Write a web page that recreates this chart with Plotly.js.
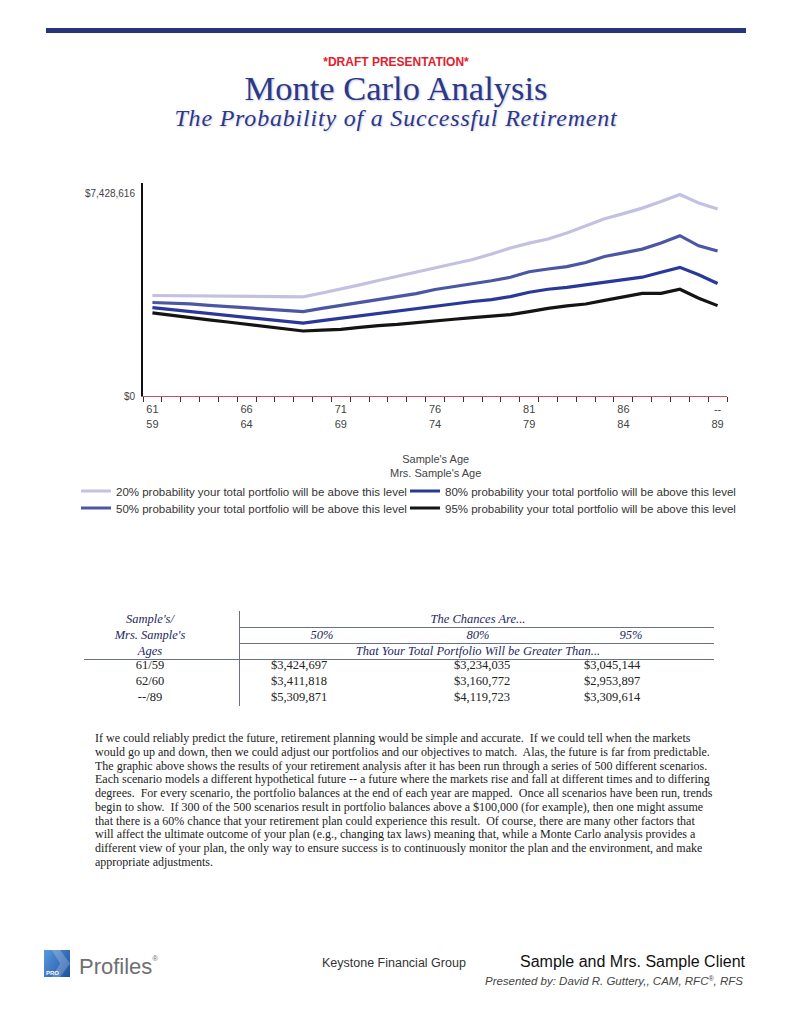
<!DOCTYPE html>
<html>
<head>
<meta charset="utf-8">
<script src="https://cdn.plot.ly/plotly-3.0.1.min.js"></script>
<style>
html,body{margin:0;padding:0;background:#fff;}
body{width:792px;height:1024px;position:relative;overflow:hidden;font-family:"Liberation Sans",Arial,sans-serif;}
.a{position:absolute;white-space:nowrap;}
.c{transform:translate(-50%,-50%);}
.lv{transform:translateY(-50%);}
.rv{transform:translate(-100%,-50%);}
.serif{font-family:"Liberation Serif","Times New Roman",serif;}
.hdr{font-family:"Liberation Serif","Times New Roman",serif;font-style:italic;font-size:12.5px;color:#23285e;}
.val{font-family:"Liberation Serif","Times New Roman",serif;font-size:12.5px;color:#222;}
.hl{position:absolute;height:1px;background:#6a6f8c;}
#chart{position:absolute;left:0;top:170px;width:792px;height:360px;}
#para{position:absolute;left:95px;top:732px;font-family:"Liberation Serif","Times New Roman",serif;font-size:12px;line-height:13.75px;color:#222;white-space:nowrap;}
</style>
</head>
<body>
<div class="a" style="left:46px;top:28px;width:700px;height:5px;background:#27357b;"></div>
<div class="a c" style="left:396px;top:62px;font-weight:bold;font-size:12px;color:#e3202c;">*DRAFT PRESENTATION*</div>
<div class="a c serif" style="left:396px;top:88px;font-size:34.5px;color:#2d3886;text-shadow:1px 1px 2px rgba(90,100,170,0.35);">Monte Carlo Analysis</div>
<div class="a c serif" style="left:396px;top:118px;font-size:24px;font-style:italic;letter-spacing:0.8px;color:#2d3886;text-shadow:1px 1px 2px rgba(90,100,170,0.3);">The Probability of a Successful Retirement</div>

<div id="chart"></div>
<div id="table"></div>

<div id="para">If we could reliably predict the future, retirement planning would be simple and accurate.&nbsp; If we could tell when the markets<br>would go up and down, then we could adjust our portfolios and our objectives to match.&nbsp; Alas, the future is far from predictable.<br>The graphic above shows the results of your retirement analysis after it has been run through a series of 500 different scenarios.<br>Each scenario models a different hypothetical future -- a future where the markets rise and fall at different times and to differing<br>degrees.&nbsp; For every scenario, the portfolio balances at the end of each year are mapped.&nbsp; Once all scenarios have been run, trends<br>begin to show.&nbsp; If 300 of the 500 scenarios result in portfolio balances above a $100,000 (for example), then one might assume<br>that there is a 60% chance that your retirement plan could experience this result.&nbsp; Of course, there are many other factors that<br>will affect the ultimate outcome of your plan (e.g., changing tax laws) meaning that, while a Monte Carlo analysis provides a<br>different view of your plan, the only way to ensure success is to continuously monitor the plan and the environment, and make<br>appropriate adjustments.</div>

<div class="a" style="left:44px;top:950px;width:26px;height:27px;background:linear-gradient(120deg,#5a9ae0,#1c4f9e);overflow:hidden;">
  <div style="position:absolute;left:0;top:0;width:26px;height:27px;background:rgba(255,255,255,0.22);clip-path:polygon(30% 0,62% 0,100% 50%,62% 100%,30% 100%,62% 50%);"></div>
  <span style="position:absolute;left:2px;bottom:1px;font-weight:bold;font-size:6px;color:#fff;">PRO</span>
</div>
<div class="a lv" style="left:79px;top:967px;font-size:22px;color:#707070;">Profiles<span style="font-size:8px;vertical-align:top;">®</span></div>
<div class="a lv" style="left:322px;top:963px;font-size:12.5px;color:#333;">Keystone Financial Group</div>
<div class="a rv" style="left:745px;top:962px;font-size:16px;color:#111;">Sample and Mrs. Sample Client</div>
<div class="a rv" style="left:743px;top:981px;font-size:11.5px;font-style:italic;color:#444;">Presented by: David R. Guttery,, CAM, RFC<sup style="font-size:7px;">®</sup>, RFS</div>

<script>
// ---- chart data ----
const sampleAge = ['61','62','63','64','65','66','67','68','69','70','71','72','73','74','75','76','77','78','79','80','81','82','83','84','85','86','87','88','89','90','--'];
const mrsAge = ['59','60','61','62','63','64','65','66','67','68','69','70','71','72','73','74','75','76','77','78','79','80','81','82','83','84','85','86','87','88','89'];
const p20 = [3680000,3675000,3665000,3660000,3650000,3645000,3640000,3635000,3630000,3770000,3910000,4070000,4230000,4380000,4550000,4710000,4840000,5000000,5200000,5420000,5600000,5750000,5970000,6240000,6490000,6680000,6880000,7120000,7380000,7070000,6850000];
const p50 = [3424697,3411818,3370000,3320000,3270000,3230000,3180000,3130000,3090000,3210000,3320000,3430000,3540000,3640000,3750000,3900000,4000000,4110000,4220000,4350000,4550000,4650000,4740000,4890000,5110000,5240000,5380000,5600000,5870000,5500000,5309871];
const p80 = [3234035,3160772,3090000,3020000,2950000,2880000,2810000,2740000,2670000,2760000,2850000,2940000,3030000,3110000,3210000,3290000,3370000,3460000,3530000,3640000,3800000,3910000,3980000,4070000,4170000,4250000,4350000,4530000,4710000,4440000,4119723];
const p95 = [3045144,2953897,2870000,2790000,2710000,2630000,2550000,2470000,2380000,2410000,2440000,2510000,2580000,2620000,2690000,2750000,2810000,2870000,2920000,2980000,3090000,3210000,3300000,3370000,3500000,3640000,3760000,3760000,3910000,3580000,3309614];
const seriesNames = ['20% probability your total portfolio will be above this level','50% probability your total portfolio will be above this level','80% probability your total portfolio will be above this level','95% probability your total portfolio will be above this level'];
const seriesColors = ['#c3c1e1','#4b57a3','#2a389a','#141414'];
// legend slot of each series: [column, row]
const legendSlot = [[0, 0], [0, 1], [1, 0], [1, 1]];
const yMax = 7428616;
const yTickText = ['$0','$7,428,616'];
const xTitle = "Sample's Age<br>Mrs. Sample's Age";

// ---- table data ----
const tblAges = ['61/59','62/60','--/89'];
const tbl50 = ['$3,424,697','$3,411,818','$5,309,871'];
const tbl80 = ['$3,234,035','$3,160,772','$4,119,723'];
const tbl95 = ['$3,045,144','$2,953,897','$3,309,614'];
const tblPct = ['50%','80%','95%'];
const tblLeftHead = ["Sample's/","Mrs. Sample's","Ages"];

const idx = sampleAge.map((_, i) => i);
const tickIdx = idx.filter(i => i % 5 === 0);
const allSeries = [p20, p50, p80, p95];
const legendIds = allSeries.map((_, k) => k === 0 ? 'legend' : 'legend' + (k + 1));
const traces = allSeries.map((s, k) => ({
  type: 'scatter', mode: 'lines', x: idx, y: s, name: seriesNames[k],
  line: {color: seriesColors[k], width: 3.2}, legend: legendIds[k], hoverinfo: 'skip'
}));

const H = 360;
const legendColX = [-0.1147, 0.4486];   // paper fractions of the plot width
const legendRowY = [39 / H, 22 / H];    // container fractions
const layout = {
  width: 792, height: H,
  margin: {l: 143, r: 65, t: 13, b: 134},
  paper_bgcolor: '#fff', plot_bgcolor: '#fff',
  font: {family: '"Liberation Sans", Arial, sans-serif', size: 11, color: '#444'},
  showlegend: true,
  xaxis: {
    range: [-0.5, idx.length - 0.5], tickmode: 'array', tickvals: tickIdx,
    ticktext: tickIdx.map(i => sampleAge[i] + '<br>' + mrsAge[i]),
    ticks: '', showgrid: false, zeroline: false, showline: true, linecolor: '#d24a5c', linewidth: 1,
    tickfont: {size: 11, color: '#444'}, automargin: false, ticklabelstandoff: 3,
    minor: {tick0: -0.5, dtick: 1, ticks: 'outside', ticklen: 5, tickwidth: 1, tickcolor: '#333', showgrid: false}
  },
  yaxis: {
    range: [0, yMax * 1.05], tickmode: 'array', tickvals: [0, yMax], ticktext: yTickText,
    ticks: '', showgrid: false, zeroline: false, showline: true, linecolor: '#111', linewidth: 2,
    tickfont: {size: 10, color: '#444'}, automargin: false, ticklabelstandoff: 4
  },
  annotations: [{
    text: xTitle, xref: 'paper', yref: 'paper', x: 0.5, y: -0.3286, xanchor: 'center', yanchor: 'middle',
    showarrow: false, font: {size: 11, color: '#444'}
  }]
};
legendIds.forEach((id, k) => {
  layout[id] = {
    orientation: 'h', xref: 'paper', x: legendColX[legendSlot[k][0]], xanchor: 'left',
    yref: 'container', y: legendRowY[legendSlot[k][1]], yanchor: 'middle',
    font: {size: 11.5, color: '#333'}, bgcolor: 'rgba(0,0,0,0)'
  };
});
Plotly.newPlot('chart', traces, layout, {displayModeBar: false, staticPlot: true});

// ---- table ----
const T = document.getElementById('table');
function txt(cls, x, y, s) {
  const d = document.createElement('div');
  d.className = 'a c ' + cls; d.style.left = x + 'px'; d.style.top = y + 'px';
  d.textContent = s; T.appendChild(d);
}
function hline(x1, x2, y) {
  const d = document.createElement('div'); d.className = 'hl';
  d.style.left = x1 + 'px'; d.style.width = (x2 - x1) + 'px'; d.style.top = y + 'px'; T.appendChild(d);
}
const colAges = 150, headRows = [619, 635, 651], dataRows = [665, 681, 697];
const pctCenters = [322, 478, 631], valCenters = [299, 482, 612];
tblLeftHead.forEach((s, i) => txt('hdr', colAges, headRows[i], s));
txt('hdr', 478, headRows[0], 'The Chances Are...');
tblPct.forEach((s, i) => txt('hdr', pctCenters[i], headRows[1], s));
txt('hdr', 478, headRows[2], 'That Your Total Portfolio Will be Greater Than...');
hline(239, 714, 627); hline(239, 714, 643); hline(84, 714, 659);
const v = document.createElement('div'); v.className = 'hl';
v.style.cssText += 'left:239px;top:611px;width:1px;height:95px;'; T.appendChild(v);
tblAges.forEach((s, r) => {
  txt('val', colAges, dataRows[r], s);
  txt('val', valCenters[0], dataRows[r], tbl50[r]);
  txt('val', valCenters[1], dataRows[r], tbl80[r]);
  txt('val', valCenters[2], dataRows[r], tbl95[r]);
});
</script>
</body>
</html>
